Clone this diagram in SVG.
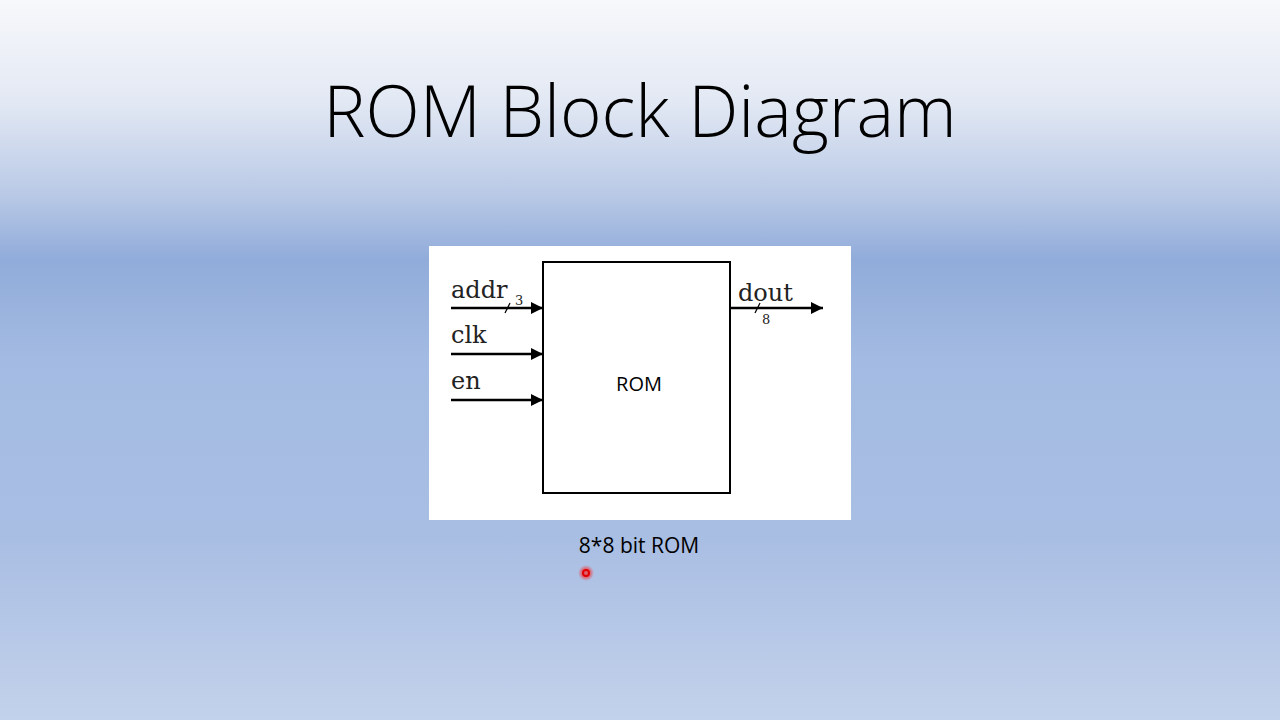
<svg xmlns="http://www.w3.org/2000/svg" width="1280" height="720" viewBox="0 0 1280 720">
<defs>
<linearGradient id="bg" x1="0" y1="0" x2="0" y2="1">
<stop offset="0" stop-color="#f7f8fb"/>
<stop offset="0.14" stop-color="#e3e9f4"/>
<stop offset="0.27" stop-color="#b9c9e6"/>
<stop offset="0.36" stop-color="#91acda"/>
<stop offset="0.5" stop-color="#a3bbe2"/>
<stop offset="0.75" stop-color="#a9bee3"/>
<stop offset="1" stop-color="#c3d2eb"/>
</linearGradient>
<marker id="arr" viewBox="0 0 10 10" refX="10" refY="5" markerWidth="15" markerHeight="12" markerUnits="userSpaceOnUse" orient="auto">
<path d="M0,0 L10,5 L0,10 Z" fill="#000"/>
</marker>
<radialGradient id="glow">
<stop offset="0.5" stop-color="#ff2020" stop-opacity="0.6"/>
<stop offset="1" stop-color="#ff2020" stop-opacity="0"/>
</radialGradient>
</defs>
<style>
.title{font-family:"Open Sans","Liberation Sans",sans-serif;font-weight:300;font-size:71px;fill:#000}
.sans{font-family:"Open Sans","Liberation Sans",sans-serif;fill:#000}
.serif{font-family:"DejaVu Serif","Liberation Serif",serif;fill:#222}
.wire{stroke:#000;stroke-width:2.5;fill:none}
</style>
<rect width="1280" height="720" fill="url(#bg)"/>
<text class="title" x="640" y="137" text-anchor="middle">ROM Block Diagram</text>
<rect x="429" y="246" width="422" height="274" fill="#fff"/>
<g id="rom">
<rect x="543" y="262" width="187" height="231" fill="#fff" stroke="#000" stroke-width="2"/>
<text class="sans" x="639" y="391" font-size="20" text-anchor="middle">ROM</text>
</g>
<g id="addr">
<text class="serif" x="451" y="298" font-size="24">addr</text>
<text class="serif" x="515" y="305" font-size="13">3</text>
</g>
<g id="clk"><text class="serif" x="451" y="343" font-size="24">clk</text></g>
<g id="en"><text class="serif" x="451" y="389" font-size="24">en</text></g>
<g id="dout">
<text class="serif" x="738" y="301" font-size="24">dout</text>
<text class="serif" x="762" y="324" font-size="13">8</text>
</g>
<g id="connectors">
<line class="wire" x1="451" y1="308" x2="543" y2="308" marker-end="url(#arr)"/>
<line class="wire" x1="451" y1="354" x2="543" y2="354" marker-end="url(#arr)"/>
<line class="wire" x1="451" y1="400" x2="543" y2="400" marker-end="url(#arr)"/>
<line class="wire" x1="730" y1="308" x2="823" y2="308" marker-end="url(#arr)"/>
<line x1="505" y1="313" x2="510" y2="303" stroke="#000" stroke-width="1.3"/>
<line x1="755" y1="313" x2="760" y2="303" stroke="#000" stroke-width="1.3"/>
</g>
<text class="sans" x="639" y="553" font-size="21" text-anchor="middle">8*8 bit ROM</text>
<circle cx="586" cy="573" r="8" fill="url(#glow)"/>
<circle cx="586" cy="573" r="3" fill="none" stroke="#e00000" stroke-width="2"/>
</svg>
